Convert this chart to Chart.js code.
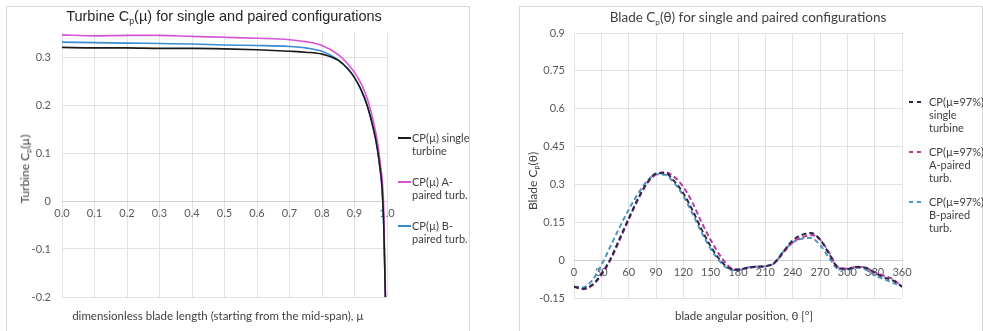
<!DOCTYPE html>
<html>
<head>
<meta charset="utf-8">
<script src="https://cdn.jsdelivr.net/npm/chart.js@4.4.1/dist/chart.umd.min.js"></script>
<style>
  body { margin: 0; width: 983px; height: 331px; background: #fff; position: relative; overflow: hidden; font-family: Lato, sans-serif; color: #595959; }
  .box { position: absolute; top: 6px; height: 340px; width: 464px; border: 1px solid #d9d9d9; box-sizing: border-box; }
  canvas { position: absolute; top: 6px; }
  .title { position: absolute; white-space: nowrap; transform: translate(-50%, -50%); }
  .title sub { font-size: 0.6em; vertical-align: -0.25em; }
  .ytitle { position: absolute; white-space: nowrap; transform: translate(-50%, -50%) rotate(-90deg); font-size: 12px; color: #404040; }
  .ytitle sub { font-size: 0.6em; vertical-align: -0.25em; }
  .xtitle { position: absolute; white-space: nowrap; transform: translate(-50%, -50%); font-size: 11.5px; color: #404040; }
  .leg { position: absolute; font-size: 11px; line-height: 13px; color: #404040; }
  .leg .mark { position: absolute; height: 2px; width: 13px; }
</style>
</head>
<body>
<div class="box" style="left:6px"></div>
<div class="box" style="left:519px"></div>
<canvas id="left" width="464" height="325" style="left:6px"></canvas>
<canvas id="right" width="463" height="325" style="left:519px"></canvas>

<div class="title" style="left:224px; top:17px; font-family:'Liberation Sans', sans-serif; font-size:14.5px; color:#262626">Turbine C<sub>p</sub>(µ) for single and paired configurations</div>
<div class="title" style="left:748px; top:18px; font-size:13.5px; color:#404040">Blade C<sub>p</sub>(θ) for single and paired configurations</div>
<div class="ytitle" style="left:25px; top:169px">Turbine C<sub>p</sub>(µ)</div>
<div class="ytitle" style="left:533px; top:181px">Blade C<sub>p</sub>(θ)</div>
<div class="xtitle" style="left:218px; top:315px">dimensionless blade length (starting from the mid-span), µ</div>
<div class="xtitle" style="left:744px; top:315px">blade angular position, θ [°]</div>
<div id="legLeft"></div>
<div id="legRight"></div>

<script>
// left chart: Cp along the blade
const mu = [0, 0.1, 0.2, 0.3, 0.4, 0.5, 0.6, 0.7, 0.75, 0.8, 0.85, 0.88, 0.9, 0.92, 0.94, 0.96, 0.97, 0.98, 0.985, 0.99, 0.995];
const cpSingle = [0.320, 0.319, 0.319, 0.318, 0.318, 0.317, 0.315, 0.312, 0.310, 0.306, 0.293, 0.275, 0.257, 0.232, 0.197, 0.145, 0.110, 0.060, 0.025, -0.05, -0.2];
const cpA      = [0.346, 0.344, 0.345, 0.345, 0.343, 0.341, 0.339, 0.336, 0.332, 0.324, 0.305, 0.285, 0.268, 0.245, 0.212, 0.160, 0.125, 0.075, 0.045, -0.02, -0.2];
const cpB      = [0.331, 0.330, 0.329, 0.328, 0.327, 0.325, 0.324, 0.322, 0.319, 0.312, 0.294, 0.275, 0.257, 0.232, 0.197, 0.145, 0.110, 0.060, 0.025, -0.05, -0.2];
const muTicks  = [0, 0.1, 0.2, 0.3, 0.4, 0.5, 0.6, 0.7, 0.8, 0.9, 1.0];
const cpTicks  = [-0.2, -0.1, 0, 0.1, 0.2, 0.3];

// right chart: Cp over one revolution at mu = 97%
const theta = [0, 10, 20, 30, 40, 50, 60, 70, 80, 90, 100, 110, 120, 130, 140, 150, 160, 170, 180, 190, 200, 210, 220, 230, 240, 250, 260, 270, 280, 290, 300, 310, 320, 330, 340, 350, 360];
const bladeSingle = [-0.105, -0.113, -0.098, -0.055, 0.005, 0.085, 0.165, 0.242, 0.305, 0.343, 0.345, 0.313, 0.265, 0.198, 0.122, 0.055, 0.002, -0.032, -0.038, -0.030, -0.026, -0.024, -0.010, 0.035, 0.078, 0.100, 0.108, 0.082, 0.025, -0.030, -0.035, -0.027, -0.030, -0.050, -0.068, -0.080, -0.105];
const bladeA      = [-0.105, -0.115, -0.100, -0.060, 0.000, 0.078, 0.160, 0.238, 0.303, 0.340, 0.348, 0.330, 0.290, 0.228, 0.150, 0.080, 0.020, -0.025, -0.038, -0.032, -0.027, -0.024, -0.012, 0.030, 0.070, 0.090, 0.100, 0.082, 0.030, -0.028, -0.033, -0.026, -0.030, -0.048, -0.062, -0.075, -0.105];
const bladeB      = [-0.105, -0.108, -0.080, -0.020, 0.055, 0.130, 0.200, 0.262, 0.312, 0.340, 0.338, 0.305, 0.255, 0.185, 0.110, 0.045, -0.005, -0.035, -0.040, -0.030, -0.026, -0.025, -0.012, 0.035, 0.070, 0.085, 0.088, 0.060, 0.010, -0.035, -0.038, -0.030, -0.037, -0.060, -0.075, -0.090, -0.105];
const thetaTicks = [0, 30, 60, 90, 120, 150, 180, 210, 240, 270, 300, 330, 360];
const bladeTicks = [-0.15, 0, 0.15, 0.3, 0.45, 0.6, 0.75, 0.9];

const leftLabels  = [['CP(µ) single', 'turbine'], ['CP(µ) A-', 'paired turb.'], ['CP(µ) B-', 'paired turb.']];
const rightLabels = [['CP(µ=97%)', 'single', 'turbine'], ['CP(µ=97%)', 'A-paired', 'turb.'], ['CP(µ=97%)', 'B-paired', 'turb.']];
const leftColors  = ['#1a1a1a', '#d654d6', '#3a8cd0'];
const rightColors = ['#2a2a48', '#b33aa3', '#4f94c4'];

const tickFont = { family: 'Lato', size: 11 };
const gridColor = '#e2e2e2';
const pts = (xs, ys) => xs.map((x, i) => ({ x, y: ys[i] }));

function lineSet(label, data, color, dashed) {
  return {
    label, data,
    borderColor: color,
    borderWidth: dashed ? 2 : 1.6,
    borderDash: dashed ? [5, 3] : [],
    pointRadius: 0,
    cubicInterpolationMode: 'monotone',
    fill: false,
  };
}

new Chart(document.getElementById('left'), {
  type: 'line',
  data: {
    datasets: [
      lineSet('CP(µ) single turbine', pts(mu, cpSingle), leftColors[0]),
      lineSet('CP(µ) A-paired turb.', pts(mu, cpA), leftColors[1]),
      lineSet('CP(µ) B-paired turb.', pts(mu, cpB), leftColors[2]),
    ]
  },
  options: {
    responsive: false, animation: false,
    layout: { padding: { left: 0, top: 27, right: 83, bottom: 34 } },
    plugins: { legend: { display: false }, title: { display: false }, tooltip: { enabled: false } },
    scales: {
      x: {
        type: 'linear', position: { y: 0 }, min: 0, max: 1,
        afterBuildTicks: s => { s.ticks = muTicks.map(v => ({ value: v })); },
        ticks: { font: tickFont, color: '#595959', padding: 6, maxRotation: 0, callback: v => v.toFixed(1) },
        grid: { color: gridColor, drawTicks: false },
        border: { color: '#cfcfcf' },
      },
      y: {
        min: -0.2, max: 0.35,
        afterFit: s => { s.width = 56; },
        afterBuildTicks: s => { s.ticks = cpTicks.map(v => ({ value: v })); },
        ticks: { font: tickFont, color: '#595959', padding: 11, callback: v => v === 0 ? '0' : v.toFixed(1) },
        grid: { color: gridColor, drawTicks: false },
        border: { display: false },
      }
    }
  }
});

new Chart(document.getElementById('right'), {
  type: 'line',
  data: {
    datasets: [
      lineSet('CP(µ=97%) single turbine', pts(theta, bladeSingle), rightColors[0], true),
      lineSet('CP(µ=97%) A-paired turb.', pts(theta, bladeA), rightColors[1], true),
      lineSet('CP(µ=97%) B-paired turb.', pts(theta, bladeB), rightColors[2], true),
    ]
  },
  options: {
    responsive: false, animation: false,
    layout: { padding: { left: 0, top: 27, right: 80, bottom: 33 } },
    plugins: { legend: { display: false }, title: { display: false }, tooltip: { enabled: false } },
    scales: {
      x: {
        type: 'linear', position: { y: 0 }, min: 0, max: 360,
        afterBuildTicks: s => { s.ticks = thetaTicks.map(v => ({ value: v })); },
        ticks: { font: tickFont, color: '#595959', padding: 6, maxRotation: 0 },
        grid: { color: gridColor, drawTicks: false },
        border: { color: '#cfcfcf' },
      },
      y: {
        min: -0.15, max: 0.9,
        afterFit: s => { s.width = 55; },
        afterBuildTicks: s => { s.ticks = bladeTicks.map(v => ({ value: v })); },
        ticks: { font: tickFont, color: '#595959', padding: 9, callback: v => String(Math.round(v * 100) / 100) },
        grid: { color: gridColor, drawTicks: false },
        border: { display: false },
      }
    }
  }
});

// html legends
function buildLegend(el, labels, colors, x, tops, textX, dashed) {
  labels.forEach((lines, i) => {
    const d = document.createElement('div');
    d.className = 'leg';
    d.style.left = textX + 'px';
    d.style.top = (tops[i] - 6.5) + 'px';
    d.innerHTML = lines.join('<br>');
    const m = document.createElement('span');
    m.className = 'mark';
    m.style.left = (x - textX) + 'px';
    m.style.top = '6px';
    m.style.background = dashed
      ? `repeating-linear-gradient(to right, ${colors[i]} 0 4px, transparent 4px 8px)`
      : colors[i];
    d.appendChild(m);
    el.appendChild(d);
  });
}
buildLegend(document.getElementById('legLeft'), leftLabels, leftColors, 398, [137, 181, 225], 412, false);
buildLegend(document.getElementById('legRight'), rightLabels, rightColors, 909, [101, 151, 201], 929, true);
</script>
</body>
</html>
